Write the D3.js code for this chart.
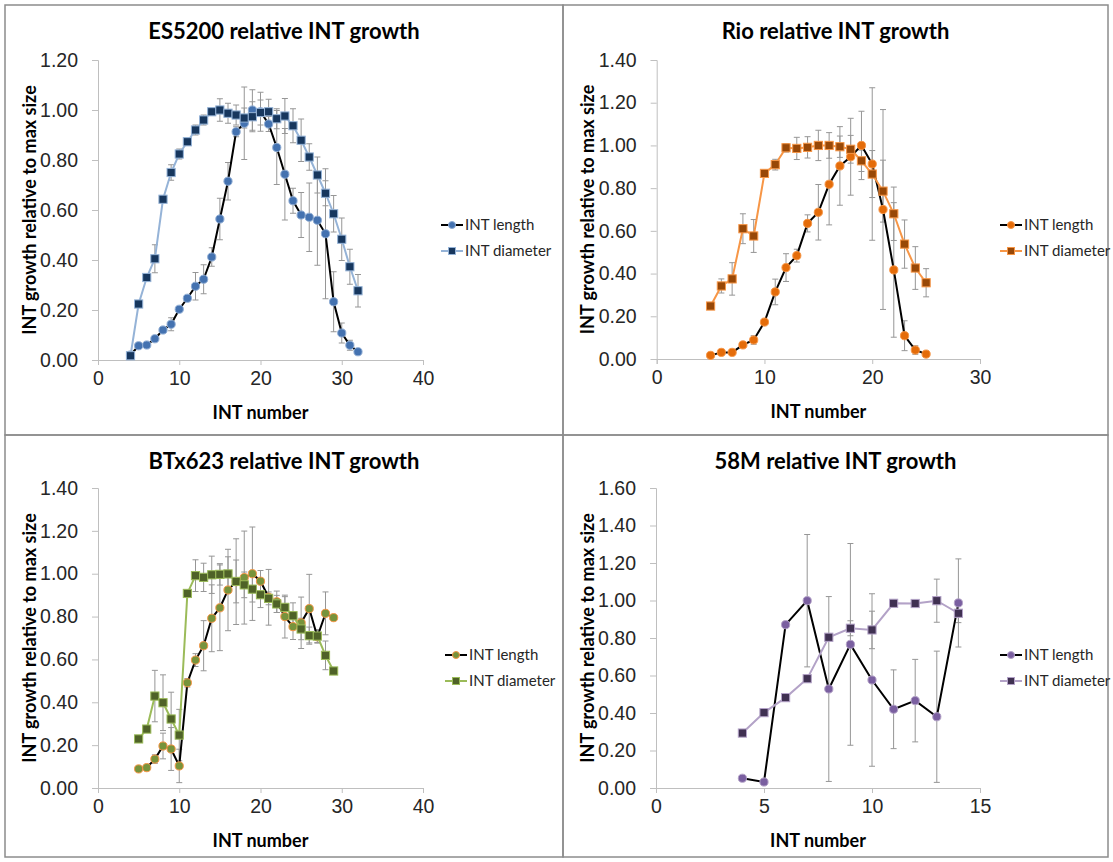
<!DOCTYPE html>
<html>
<head>
<meta charset="utf-8">
<script src="https://cdn.jsdelivr.net/npm/d3@7"></script>
<style>
  body { margin: 0; background: #fff; }
  svg { display: block; font-family: Lato, "Open Sans", sans-serif; }
  .tick text { fill: #262626; }
</style>
</head>
<body>
<div id="chart"></div>
<script>
// ES5200
var es5200X = [4,5,6,7,8,9,10,11,12,13,14,15,16,17,18,19,20,21,22,23,24,25,26,27,28,29,30,31,32];
var es5200Length = [0.02,0.057,0.06,0.085,0.12,0.143,0.203,0.247,0.295,0.323,0.412,0.564,0.715,0.913,0.947,1.00,0.993,0.944,0.85,0.743,0.637,0.58,0.571,0.559,0.505,0.233,0.108,0.059,0.033];
var es5200LengthErr = [0.01,0.01,0.01,0.01,0.01,0.026,0.01,0.01,0.055,0.058,0.037,0.083,0.075,0.02,0.145,0.081,0.078,0.03,0.148,0.183,0.05,0.09,0.137,0.18,0.26,0.12,0.04,0.02,0.01];
var es5200Diameter = [0.017,0.224,0.33,0.405,0.643,0.75,0.824,0.873,0.92,0.96,0.993,1.00,0.987,0.98,0.968,0.973,0.99,0.993,0.965,0.976,0.937,0.879,0.812,0.74,0.667,0.585,0.483,0.373,0.277];
var es5200DiameterErr = [0.01,0.01,0.01,0.056,0.01,0.031,0.02,0.01,0.02,0.02,0.01,0.045,0.04,0.04,0.04,0.06,0.05,0.05,0.04,0.07,0.068,0.085,0.053,0.072,0.05,0.073,0.085,0.07,0.065];

// Rio
var rioX = [5,6,7,8,9,10,11,12,13,14,15,16,17,18,19,20,21,22,23,24,25];
var rioLength = [0.017,0.031,0.031,0.066,0.089,0.173,0.314,0.428,0.484,0.635,0.687,0.818,0.904,0.947,1.00,0.913,0.70,0.417,0.109,0.042,0.023];
var rioLengthErr = [0.01,0.01,0.01,0.01,0.02,0.01,0.06,0.065,0.03,0.04,0.13,0.19,0.184,0.18,0.16,0.357,0.468,0.315,0.07,0.02,0.01];
var rioDiameter = [0.248,0.342,0.375,0.61,0.576,0.869,0.91,0.989,0.986,0.991,1.00,1.00,0.994,0.982,0.928,0.866,0.786,0.68,0.538,0.426,0.357];
var rioDiameterErr = [0.01,0.033,0.076,0.07,0.077,0.01,0.025,0.02,0.052,0.05,0.071,0.06,0.05,0.065,0.05,0.11,0.145,0.125,0.113,0.1,0.066];

// BTx623
var btX = [5,6,7,8,9,10,11,12,13,14,15,16,17,18,19,20,21,22,23,24,25,26,27,28,29];
var btLength = [0.089,0.095,0.135,0.196,0.182,0.103,0.491,0.597,0.664,0.792,0.841,0.924,0.963,0.982,1.00,0.965,0.89,0.869,0.80,0.753,0.771,0.837,0.706,0.815,0.795];
var btLengthErr = [0.01,0.01,0.02,0.06,0.1,0.078,0.02,0.03,0.117,0.156,0.2,0.19,0.2,0.217,0.218,0.05,0.13,0.05,0.1,0.06,0.12,0.16,0.03,0.1,0.01];
var btDiameter = [0.229,0.275,0.429,0.398,0.322,0.247,0.908,0.991,0.983,0.995,0.997,0.999,0.964,0.948,0.928,0.902,0.885,0.859,0.843,0.804,0.742,0.711,0.709,0.619,0.546];
var btDiameterErr = [0.01,0.01,0.12,0.13,0.125,0.12,0.01,0.074,0.066,0.087,0.05,0.08,0.1,0.06,0.06,0.06,0.03,0.04,0.05,0.06,0.05,0.04,0.03,0.067,0.01];

// 58M
var m58X = [4,5,6,7,8,9,10,11,12,13,14];
var m58Length = [0.052,0.032,0.871,0.999,0.528,0.766,0.576,0.42,0.466,0.38,0.987];
var m58LengthErr = [0,0,0,0.353,0.493,0.538,0.46,0.21,0.22,0.35,0.235];
var m58Diameter = [0.293,0.402,0.482,0.583,0.804,0.852,0.843,0.985,0.984,0.999,0.932];
var m58DiameterErr = [0,0,0,0,0,0.04,0.1,0,0,0.115,0.05];

var seriesNames = ["INT length", "INT diameter"];

var svg = d3.select("#chart").append("svg")
  .attr("width", 1113)
  .attr("height", 862);

var panels = [
  {title: "ES5200 relative INT growth", box: [5, 5, 558, 430],
   xs: [0, 40, 10], ys: [0, 1.2], xr: [98, 423], yr: [360, 60],
   x: es5200X, len: es5200Length, lenErr: es5200LengthErr, dia: es5200Diameter, diaErr: es5200DiameterErr,
   lenFill: "#4472B0", lenStroke: "#8EACD4", diaLine: "#95B3D7", diaFill: "#17375E", diaStroke: "#95B3D7",
   legend: [441, 225]},
  {title: "Rio relative INT growth", box: [563, 5, 545, 430],
   xs: [0, 30, 10], ys: [0, 1.4], xr: [656.7, 980], yr: [359, 60],
   x: rioX, len: rioLength, lenErr: rioLengthErr, dia: rioDiameter, diaErr: rioDiameterErr,
   lenFill: "#E46C0A", lenStroke: "#F79646", diaLine: "#F79646", diaFill: "#984807", diaStroke: "#F79646",
   legend: [1000, 225]},
  {title: "BTx623 relative INT growth", box: [5, 435, 558, 422],
   xs: [0, 40, 10], ys: [0, 1.4], xr: [98, 423], yr: [788, 488],
   x: btX, len: btLength, lenErr: btLengthErr, dia: btDiameter, diaErr: btDiameterErr,
   lenFill: "#77933C", lenStroke: "#F79646", diaLine: "#9BBB59", diaFill: "#4F6228", diaStroke: "#9BBB59",
   legend: [445, 655]},
  {title: "58M relative INT growth", box: [563, 435, 545, 422],
   xs: [0, 15, 5], ys: [0, 1.6], xr: [656, 980], yr: [788, 488],
   x: m58X, len: m58Length, lenErr: m58LengthErr, dia: m58Diameter, diaErr: m58DiameterErr,
   lenFill: "#7A5FA0", lenStroke: "#B3A2C7", diaLine: "#B3A2C7", diaFill: "#403152", diaStroke: "#B3A2C7",
   legend: [1000, 655]}
];

panels.forEach(drawPanel);

function drawPanel(p) {
  var g = svg.append("g");

  // frame
  g.append("rect")
    .attr("x", p.box[0]).attr("y", p.box[1])
    .attr("width", p.box[2]).attr("height", p.box[3])
    .attr("fill", "none")
    .attr("stroke", "#8c8c8c")
    .attr("stroke-width", 1.5);

  var x = d3.scaleLinear().domain([p.xs[0], p.xs[1]]).range(p.xr);
  var y = d3.scaleLinear().domain(p.ys).range(p.yr);

  // axes
  var xAxis = d3.axisBottom(x)
    .tickValues(d3.range(p.xs[0], p.xs[1] + 0.001, p.xs[2]))
    .tickSize(5).tickSizeOuter(5).tickPadding(6)
    .tickFormat(d3.format("d"));
  var yAxis = d3.axisLeft(y)
    .tickValues(d3.range(0, p.ys[1] + 0.001, 0.2))
    .tickSize(6).tickSizeOuter(6).tickPadding(14)
    .tickFormat(d3.format(".2f"));

  var gx = g.append("g")
    .attr("transform", "translate(0," + p.yr[0] + ")")
    .call(xAxis);
  var gy = g.append("g")
    .attr("transform", "translate(" + p.xr[0] + ",0)")
    .call(yAxis);
  [gx, gy].forEach(function(a) {
    a.selectAll("path, line").attr("stroke", "#bfbfbf");
    a.selectAll("text").style("font-size", "19.5px");
  });

  // title
  g.append("text")
    .attr("x", p.box[0] + p.box[2] / 2)
    .attr("y", p.box[1] + 34)
    .attr("text-anchor", "middle")
    .style("font-size", "22px")
    .style("font-weight", "bold")
    .text(p.title);

  // axis titles
  g.append("text")
    .attr("x", (p.xr[0] + p.xr[1]) / 2)
    .attr("y", p.yr[0] + 59)
    .attr("text-anchor", "middle")
    .style("font-size", "18px")
    .style("font-weight", "bold")
    .text("INT number");

  g.append("text")
    .attr("transform", "translate(" + (p.box[0] + 31) + "," + ((p.yr[0] + p.yr[1]) / 2) + ") rotate(-90)")
    .attr("text-anchor", "middle")
    .style("font-size", "18px")
    .style("font-weight", "bold")
    .text("INT growth relative to max size");

  var lenData = p.x.map(function(v, i) { return {x: v, y: p.len[i], e: p.lenErr[i]}; });
  var diaData = p.x.map(function(v, i) { return {x: v, y: p.dia[i], e: p.diaErr[i]}; });

  // error bars
  [lenData, diaData].forEach(function(data) {
    var eb = g.append("g").attr("stroke", "#969696").attr("stroke-width", 1);
    data.filter(function(d) { return d.e > 0; }).forEach(function(d) {
      var cx = x(d.x);
      eb.append("line")
        .attr("x1", cx).attr("x2", cx)
        .attr("y1", y(d.y + d.e)).attr("y2", y(d.y - d.e));
      eb.append("line")
        .attr("x1", cx - 3).attr("x2", cx + 3)
        .attr("y1", y(d.y + d.e)).attr("y2", y(d.y + d.e));
      eb.append("line")
        .attr("x1", cx - 3).attr("x2", cx + 3)
        .attr("y1", y(d.y - d.e)).attr("y2", y(d.y - d.e));
    });
  });

  var line = d3.line()
    .x(function(d) { return x(d.x); })
    .y(function(d) { return y(d.y); });

  // length series
  g.append("path")
    .datum(lenData)
    .attr("d", line)
    .attr("fill", "none")
    .attr("stroke", "#000")
    .attr("stroke-width", 2);
  g.selectAll(null)
    .data(lenData)
    .enter().append("circle")
    .attr("cx", function(d) { return x(d.x); })
    .attr("cy", function(d) { return y(d.y); })
    .attr("r", 4.1)
    .attr("fill", p.lenFill)
    .attr("stroke", p.lenStroke)
    .attr("stroke-width", 1);

  // diameter series
  g.append("path")
    .datum(diaData)
    .attr("d", line)
    .attr("fill", "none")
    .attr("stroke", p.diaLine)
    .attr("stroke-width", 2);
  g.selectAll(null)
    .data(diaData)
    .enter().append("rect")
    .attr("x", function(d) { return x(d.x) - 4.1; })
    .attr("y", function(d) { return y(d.y) - 4.1; })
    .attr("width", 8.2)
    .attr("height", 8.2)
    .attr("fill", p.diaFill)
    .attr("stroke", p.diaStroke)
    .attr("stroke-width", 1);

  // legend
  var lg = g.append("g").attr("transform", "translate(" + p.legend[0] + "," + p.legend[1] + ")");
  seriesNames.forEach(function(name, i) {
    var row = lg.append("g").attr("transform", "translate(0," + (i * 26) + ")");
    row.append("line")
      .attr("x1", 0).attr("x2", 22)
      .attr("stroke", i === 0 ? "#000" : p.diaLine)
      .attr("stroke-width", 2);
    if (i === 0) {
      row.append("circle").attr("cx", 11).attr("r", 3.5)
        .attr("fill", p.lenFill).attr("stroke", p.lenStroke);
    } else {
      row.append("rect").attr("x", 7.5).attr("y", -3.5).attr("width", 7).attr("height", 7)
        .attr("fill", p.diaFill).attr("stroke", p.diaStroke);
    }
    row.append("text")
      .attr("x", 24)
      .attr("dy", "0.35em")
      .style("font-size", "15px")
      .attr("fill", "#262626")
      .text(name);
  });
}
</script>
</body>
</html>
